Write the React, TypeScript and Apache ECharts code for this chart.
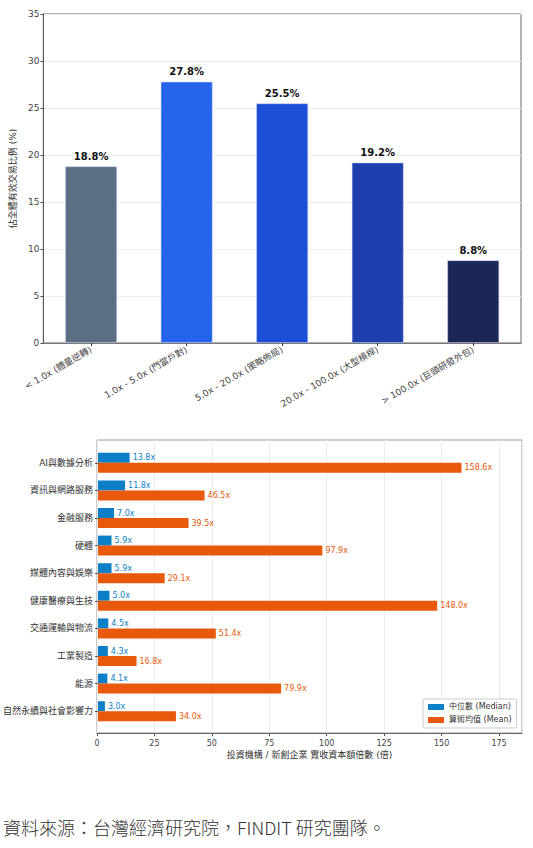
import React, { useEffect, useRef } from "react";
import * as echarts from "echarts";

const topCategories = [
  "< 1.0x (體量逆轉)",
  "1.0x - 5.0x (門當戶對)",
  "5.0x - 20.0x (策略佈局)",
  "20.0x - 100.0x (大型槓桿)",
  "> 100.0x (巨頭研發外包)",
];
const topValues = [18.8, 27.8, 25.5, 19.2, 8.8];
const topColors = ["#5b6f82", "#2563eb", "#1d4ed8", "#1e40af", "#1b2757"];

const sectors = [
  "AI與數據分析",
  "資訊與網路服務",
  "金融服務",
  "硬體",
  "媒體內容與娛樂",
  "健康醫療與生技",
  "交通運輸與物流",
  "工業製造",
  "能源",
  "自然永續與社會影響力",
];
const medianValues = [13.8, 11.8, 7.0, 5.9, 5.9, 5.0, 4.5, 4.3, 4.1, 3.0];
const meanValues = [158.6, 46.5, 39.5, 97.9, 29.1, 148.0, 51.4, 16.8, 79.9, 34.0];

const FONT = "DejaVu Sans, Noto Sans CJK TC, sans-serif";
const BLUE = "#0b7fc7";
const ORANGE = "#e8590c";

export default function App() {
  const ref = useRef<HTMLDivElement>(null);
  useEffect(() => {
    if (!ref.current) return;
    const chart = echarts.init(ref.current, undefined, { renderer: "svg" });
    chart.setOption({
      animation: false,
      textStyle: { fontFamily: FONT },
      grid: [
        { left: 43, top: 14, width: 478, height: 329, show: true, borderColor: "#666", borderWidth: 1, containLabel: false },
        { left: 97, top: 440, width: 425, height: 293, show: true, borderColor: "#999", borderWidth: 1, containLabel: false },
        { left: 97, top: 449, width: 425, height: 276, containLabel: false },
      ],
      xAxis: [
        {
          type: "category",
          gridIndex: 0,
          data: topCategories,
          axisLine: { show: true, lineStyle: { color: "#777" } },
          axisTick: { show: true, alignWithLabel: true, length: 3, lineStyle: { color: "#333" } },
          axisLabel: { rotate: 30, fontSize: 9, color: "#444", margin: 6, fontFamily: FONT },
        },
        {
          type: "value",
          gridIndex: 1,
          min: 0,
          max: 185,
          interval: 25,
          axisLine: { show: true, lineStyle: { color: "#666" } },
          axisTick: { show: true, length: 3, lineStyle: { color: "#555" } },
          axisLabel: { fontSize: 8, color: "#444", margin: 6, showMaxLabel: false, fontFamily: FONT },
          splitLine: { show: true, lineStyle: { color: "#ececec" } },
          name: "投資機構 / 新創企業 實收資本額倍數 (倍)",
          nameLocation: "middle",
          nameGap: 17,
          nameTextStyle: { fontSize: 9, color: "#333", fontFamily: FONT },
        },
        { type: "value", gridIndex: 2, min: 0, max: 185, show: false },
      ],
      yAxis: [
        {
          type: "value",
          gridIndex: 0,
          min: 0,
          max: 35,
          interval: 5,
          axisLine: { show: true, lineStyle: { color: "#555" } },
          axisTick: { show: true, length: 3, lineStyle: { color: "#555" } },
          axisLabel: { fontSize: 9, color: "#444", margin: 4, fontFamily: FONT },
          splitLine: { show: true, lineStyle: { color: "#eeeeee" } },
          name: "佔全體有效交易比例 (%)",
          nameLocation: "middle",
          nameGap: 19,
          nameTextStyle: { fontSize: 9, color: "#333", fontFamily: FONT },
        },
        { type: "value", gridIndex: 1, min: 0, max: 1, show: false },
        {
          type: "category",
          gridIndex: 2,
          data: sectors,
          inverse: true,
          axisLine: { show: false },
          axisTick: { show: true, alignWithLabel: true, length: 3, lineStyle: { color: "#555" } },
          axisLabel: { fontSize: 9, color: "#333", margin: 5, fontFamily: FONT },
        },
      ],
      legend: {
        left: 423,
        top: 699,
        orient: "vertical",
        data: ["中位數 (Median)", "算術均值 (Mean)"],
        icon: "rect",
        itemWidth: 16,
        itemHeight: 6,
        itemGap: 5,
        padding: [4, 5, 4, 5],
        borderColor: "#ccc",
        borderWidth: 1,
        borderRadius: 2,
        backgroundColor: "#fff",
        textStyle: { fontSize: 8, color: "#333", fontFamily: FONT },
      },
      series: [
        {
          type: "bar",
          xAxisIndex: 0,
          yAxisIndex: 0,
          barWidth: 52,
          data: topValues.map((v, i) => ({
            value: v,
            itemStyle: { color: topColors[i], borderColor: "rgba(200,215,255,0.6)", borderWidth: 0.8 },
          })),
          label: {
            show: true,
            position: "top",
            distance: 5,
            formatter: (p: any) => `${p.value.toFixed(1)}%`,
            fontSize: 10,
            fontWeight: "bold",
            color: "#111",
            fontFamily: FONT,
          },
        },
        {
          type: "bar",
          name: "中位數 (Median)",
          xAxisIndex: 2,
          yAxisIndex: 2,
          barWidth: 10,
          barGap: "0%",
          itemStyle: { color: BLUE },
          data: medianValues,
          label: {
            show: true,
            position: "right",
            distance: 3,
            formatter: (p: any) => `${p.value.toFixed(1)}x`,
            fontSize: 8,
            color: BLUE,
            fontFamily: FONT,
          },
        },
        {
          type: "bar",
          name: "算術均值 (Mean)",
          xAxisIndex: 2,
          yAxisIndex: 2,
          barWidth: 10,
          barGap: "0%",
          itemStyle: { color: ORANGE },
          data: meanValues,
          label: {
            show: true,
            position: "right",
            distance: 3,
            formatter: (p: any) => `${p.value.toFixed(1)}x`,
            fontSize: 8,
            color: ORANGE,
            fontFamily: FONT,
          },
        },
      ],
      graphic: [
        {
          type: "text",
          left: 3,
          top: 818,
          style: {
            text: "資料來源：台灣經濟研究院，FINDIT 研究團隊。",
            fontSize: 18,
            fontWeight: 300,
            fill: "#333",
            fontFamily: "Noto Sans CJK TC, sans-serif",
          },
        },
      ],
    });
    return () => chart.dispose();
  }, []);
  return (
    <div
      ref={ref}
      style={{ position: "absolute", left: 0, top: 0, width: 533, height: 848, background: "#fff" }}
    />
  );
}
